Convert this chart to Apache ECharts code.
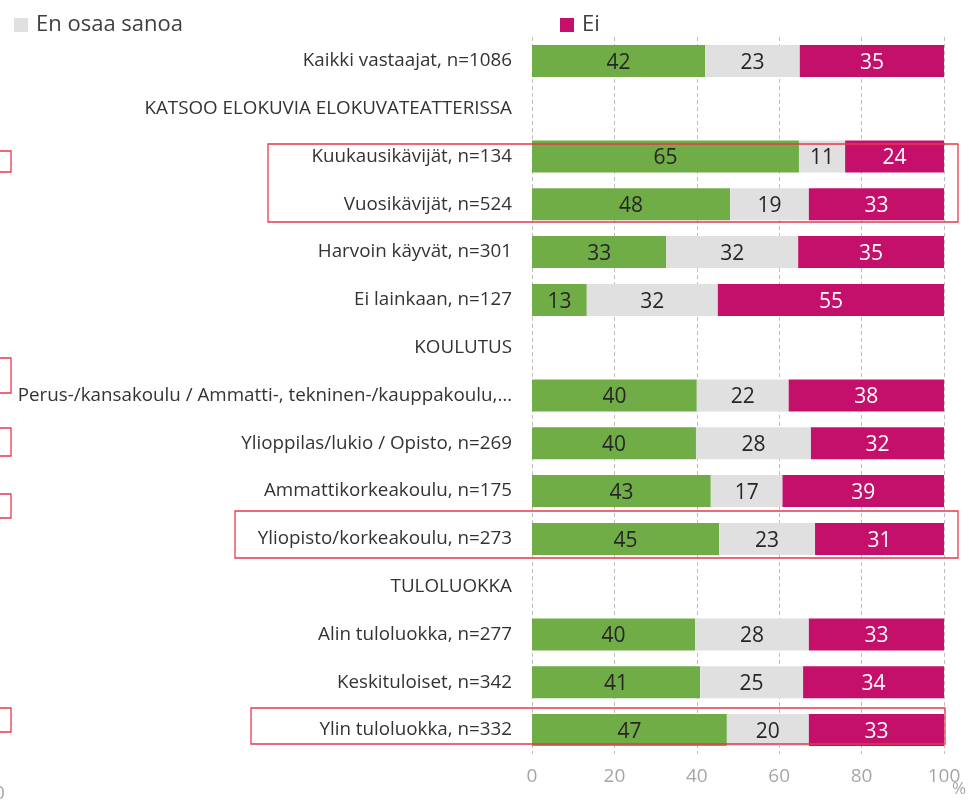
<!DOCTYPE html>
<html>
<head>
<meta charset="utf-8">
<script src="https://cdn.jsdelivr.net/npm/echarts@6/dist/echarts.min.js"></script>
<style>
html,body{margin:0;padding:0;background:#fff;}
#chart{width:969px;height:804px;}
</style>
</head>
<body>
<div id="chart"></div>
<script>
const categories = [
  'Kaikki vastaajat, n=1086',
  'KATSOO ELOKUVIA ELOKUVATEATTERISSA',
  'Kuukausikävijät, n=134',
  'Vuosikävijät, n=524',
  'Harvoin käyvät, n=301',
  'Ei lainkaan, n=127',
  'KOULUTUS',
  'Perus-/kansakoulu / Ammatti-, tekninen-/kauppakoulu,…',
  'Ylioppilas/lukio / Opisto, n=269',
  'Ammattikorkeakoulu, n=175',
  'Yliopisto/korkeakoulu, n=273',
  'TULOLUOKKA',
  'Alin tuloluokka, n=277',
  'Keskituloiset, n=342',
  'Ylin tuloluokka, n=332'
];
const seriesNames = ['Kyllä', 'En osaa sanoa', 'Ei'];
const kylla = [42.0, '-', 64.8, 48.1, 32.6, 13.3, '-', 40.0, 39.8, 43.4, 45.4, '-', 39.6, 40.8, 47.3];
const enOsaa = [23.0, '-', 11.2, 19.1, 32.0, 31.8, '-', 22.3, 27.9, 17.4, 23.3, '-', 27.6, 25.0, 19.9];
const ei = [35.0, '-', 24.0, 32.8, 35.4, 54.9, '-', 37.7, 32.3, 39.2, 31.3, '-', 32.8, 34.2, 32.8];
const xTicks = [0, 20, 40, 60, 80, 100];

const FONT = 'Open Sans';
const colors = ['#70ad47', '#e0e0e0', '#c4106b'];
const labelColors = ['#262626', '#262626', '#ffffff'];
const dataSets = [kylla, enOsaa, ei];

const chart = echarts.init(document.getElementById('chart'), null, {renderer: 'canvas'});

function box(x, y, w, h) {
  return {type: 'rect', shape: {x: x, y: y, width: w, height: h},
    style: {fill: 'none', stroke: '#e8394d', lineWidth: 1.3}, z: 100, silent: true};
}

const option = {
  backgroundColor: '#ffffff',
  animation: false,
  textStyle: {fontFamily: FONT},
  legend: [
    {data: ['En osaa sanoa'], left: 9, top: 9, icon: 'rect', itemWidth: 14, itemHeight: 14,
      textStyle: {fontFamily: FONT, fontSize: 22, color: '#404040', padding: [0, 0, 0, 3]}},
    {data: ['Ei'], left: 555, top: 9, icon: 'rect', itemWidth: 14, itemHeight: 14,
      textStyle: {fontFamily: FONT, fontSize: 22, color: '#404040', padding: [0, 0, 0, 3]}}
  ],
  grid: {left: 532, right: 25, top: 37, bottom: 50, containLabel: false},
  xAxis: {
    type: 'value', min: 0, max: 100, interval: 20,
    axisLine: {show: false}, axisTick: {show: false},
    splitLine: {show: true, lineStyle: {color: '#bfbfbf', type: [4, 3], width: 1}},
    axisLabel: {color: '#a6a6a6', fontSize: 19, fontFamily: FONT, margin: 13,
      formatter: v => xTicks.indexOf(v) >= 0 ? String(v) : ''}
  },
  yAxis: {
    type: 'category', data: categories, inverse: true,
    axisLine: {show: false}, axisTick: {show: false},
    axisLabel: {color: '#333333', fontSize: 18.8, fontFamily: FONT, margin: 20, padding: [4, 0, 0, 0]}
  },
  series: seriesNames.map((name, i) => ({
    name: name, type: 'bar', stack: 'total', barWidth: 32,
    data: dataSets[i],
    itemStyle: {color: colors[i]},
    label: {show: true, position: 'inside', offset: [0, 2], color: labelColors[i], fontSize: 21, fontFamily: FONT,
      formatter: p => (p.value === '-' || p.value == null) ? '' : String(Math.round(p.value))}
  })),
  graphic: [
    box(268, 144, 690, 78),
    box(235, 511, 723, 47),
    box(251, 708, 694, 36),
    box(-5, 151, 16, 21),
    box(-5, 358, 16, 35),
    box(-5, 428, 16, 28),
    box(-5, 494, 16, 24),
    box(-5, 708, 16, 24),
    {type: 'text', left: -6, top: 784, silent: true,
      style: {text: '0', fill: '#a6a6a6', font: '19px ' + FONT}},
    {type: 'text', left: 952, top: 781, silent: true,
      style: {text: '%', fill: '#a6a6a6', font: '17px ' + FONT}}
  ]
};
chart.setOption(option);
</script>
</body>
</html>
